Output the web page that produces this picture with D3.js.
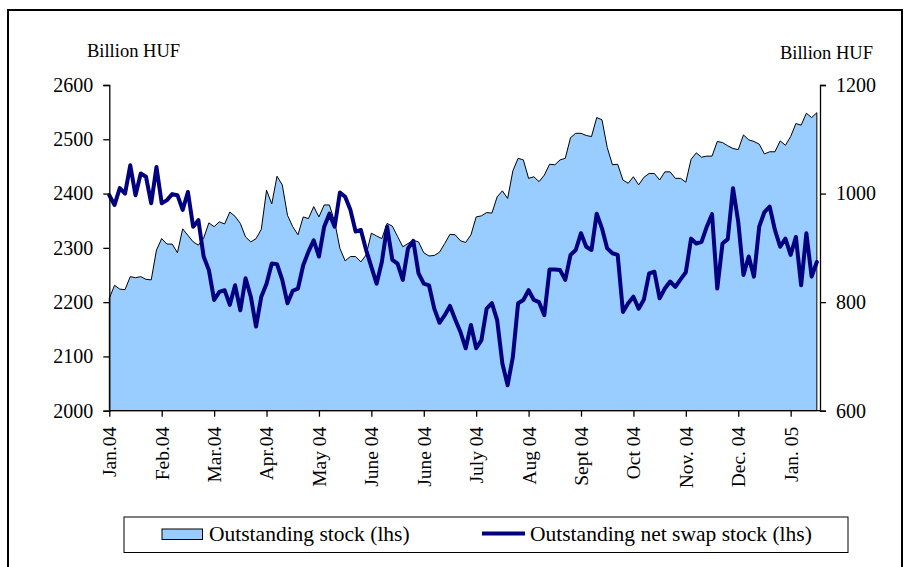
<!DOCTYPE html>
<html>
<head>
<meta charset="utf-8">
<script src="https://cdn.jsdelivr.net/npm/d3@7/dist/d3.min.js"></script>
<style>
  html, body { margin: 0; padding: 0; background: #fff; }
  svg { display: block; }
  svg text { font-family: 'Liberation Serif', 'DejaVu Serif', 'Times New Roman', Times, serif !important; fill: #000; }
</style>
</head>
<body>
<svg id="chart" width="905" height="567"></svg>
<script>
// Tick labels for the category axis (one label every 10 observations)
const tickLabels = ["Jan.04","Feb.04","Mar.04","Apr.04","May 04","June 04","June 04","July 04","Aug 04","Sept 04","Oct 04","Nov. 04","Dec. 04","Jan. 05"];
const tickEvery = 10;

// Outstanding stock (lhs), billion HUF
const outstandingStock = [
  2207,2231,2224,2223,2247,2245,2247,2242,2241,2296,
  2317,2307,2307,2291,2335,2323,2311,2305,2318,2346,
  2339,2348,2344,2366,2358,2345,2320,2311,2317,2334,
  2406,2381,2432,2416,2360,2339,2324,2357,2354,2376,
  2357,2379,2379,2348,2299,2276,2284,2284,2274,2287,
  2327,2322,2317,2345,2340,2321,2302,2308,2314,2311,
  2291,2285,2286,2292,2308,2325,2324,2313,2310,2324,
  2357,2359,2365,2364,2394,2405,2391,2442,2465,2462,
  2428,2431,2422,2434,2454,2453,2462,2465,2503,2511,
  2511,2507,2505,2540,2536,2485,2453,2454,2425,2419,
  2431,2416,2430,2437,2437,2425,2440,2440,2428,2428,
  2421,2463,2475,2467,2469,2469,2496,2494,2488,2483,
  2481,2508,2499,2496,2491,2473,2477,2477,2497,2489,
  2505,2529,2526,2548,2540,2549
];

// Outstanding net swap stock, billion HUF (plotted against the right-hand scale)
const netSwapStock = [
  997,979,1010,1000,1052,997,1037,1031,982,1049,
  982,988,999,997,970,1003,939,951,884,859,
  804,819,822,795,831,785,844,810,755,810,
  834,871,870,841,798,821,825,868,893,914,
  884,939,963,939,1002,994,970,930,933,896,
  865,834,874,939,878,871,841,899,913,853,
  834,831,788,762,776,793,768,745,715,758,
  715,730,788,798,767,687,647,699,798,804,
  822,804,800,776,860,860,859,841,887,896,
  927,902,896,963,936,899,890,887,782,798,
  810,788,805,853,856,807,825,838,828,842,
  855,917,908,911,939,962,825,908,916,1010,
  948,850,884,847,939,966,976,933,902,917,
  887,920,831,927,847,874
];

const leftTicks = [2000, 2100, 2200, 2300, 2400, 2500, 2600];
const rightTicks = [600, 800, 1000, 1200];
const seriesNames = ["Outstanding stock (lhs)", "Outstanding net swap stock (lhs)"];
const unitLabel = "Billion HUF";

const FONT = "'Liberation Serif', 'DejaVu Serif', 'Times New Roman', Times, serif";
const svg = d3.select("#chart");

// outer frame
svg.append("rect")
  .attr("x", 8).attr("y", 10).attr("width", 894).attr("height", 570)
  .attr("fill", "none").attr("stroke", "#000").attr("stroke-width", 2);

const plotLeft = 109.3, plotRight = 820, plotTop = 85, plotBottom = 410.7;

const x = d3.scaleLinear().domain([0, 135.6]).range([plotLeft, plotRight]);
const yL = d3.scaleLinear().domain([2000, 2600]).range([plotBottom, plotTop]);
const yR = d3.scaleLinear().domain([600, 1200]).range([plotBottom, plotTop]);

// area
const area = d3.area()
  .x((d, i) => x(i))
  .y0(yL(2000))
  .y1(d => yL(d));
svg.append("path")
  .datum(outstandingStock)
  .attr("d", area)
  .attr("fill", "#99CCFF")
  .attr("stroke", "#000")
  .attr("stroke-width", 1)
  .attr("stroke-linejoin", "round");

// net swap line
const line = d3.line()
  .x((d, i) => x(i))
  .y(d => yR(d));
svg.append("path")
  .datum(netSwapStock)
  .attr("d", line)
  .attr("fill", "none")
  .attr("stroke", "#000080")
  .attr("stroke-width", 4)
  .attr("stroke-linejoin", "round")
  .attr("stroke-linecap", "round");

// left axis
const leftAxis = d3.axisLeft(yL).tickValues(leftTicks).tickSize(6).tickPadding(10).tickFormat(d3.format("d"));
const gL = svg.append("g").attr("transform", `translate(${plotLeft},0)`).call(leftAxis);
// right axis
const rightAxis = d3.axisRight(yR).tickValues(rightTicks).tickSize(6).tickPadding(10).tickFormat(d3.format("d"));
const gR = svg.append("g").attr("transform", `translate(${plotRight},0)`).call(rightAxis);
// bottom axis
const tickIdx = tickLabels.map((d, i) => i * tickEvery);
const bottomAxis = d3.axisBottom(x).tickValues(tickIdx).tickSize(6).tickPadding(0)
  .tickFormat((d, i) => tickLabels[i]);
const gB = svg.append("g").attr("transform", `translate(0,${plotBottom})`).call(bottomAxis);
gB.select(".domain").attr("d", `M${plotLeft},0H${plotRight}`);

[gL, gR, gB].forEach(g => {
  g.attr("font-family", FONT);
  g.selectAll(".domain").attr("stroke", "#000").attr("stroke-width", 1.3);
  g.selectAll(".tick line").attr("stroke", "#000").attr("stroke-width", 1.3);
  g.selectAll("text").style("font-family", FONT).attr("font-size", 20).attr("fill", "#000");
});
gB.selectAll(".tick text")
  .attr("transform", "rotate(-90)")
  .attr("text-anchor", "end")
  .attr("dy", "0.33em")
  .attr("x", -16)
  .attr("y", 0)
  .attr("font-size", 19.5);

// unit labels
svg.append("text").attr("x", 87).attr("y", 57).attr("font-size", 18.5).style("font-family", FONT).text(unitLabel);
svg.append("text").attr("x", 873).attr("y", 59).attr("font-size", 18.5).style("font-family", FONT)
  .attr("text-anchor", "end").text(unitLabel);

// legend
const lg = svg.append("g");
lg.append("rect").attr("x", 124).attr("y", 517).attr("width", 724).attr("height", 35.5)
  .attr("fill", "#fff").attr("stroke", "#000").attr("stroke-width", 1);
lg.append("rect").attr("x", 162).attr("y", 529).attr("width", 40.5).attr("height", 10.5)
  .attr("fill", "#99CCFF").attr("stroke", "#000").attr("stroke-width", 1);
lg.append("text").attr("x", 209).attr("y", 541).attr("font-size", 21.5).style("font-family", FONT).text(seriesNames[0]);
lg.append("line").attr("x1", 482).attr("x2", 525).attr("y1", 533.5).attr("y2", 533.5)
  .attr("stroke", "#000080").attr("stroke-width", 4);
lg.append("text").attr("x", 530).attr("y", 541).attr("font-size", 21.5).style("font-family", FONT).text(seriesNames[1]);
</script>
</body>
</html>
